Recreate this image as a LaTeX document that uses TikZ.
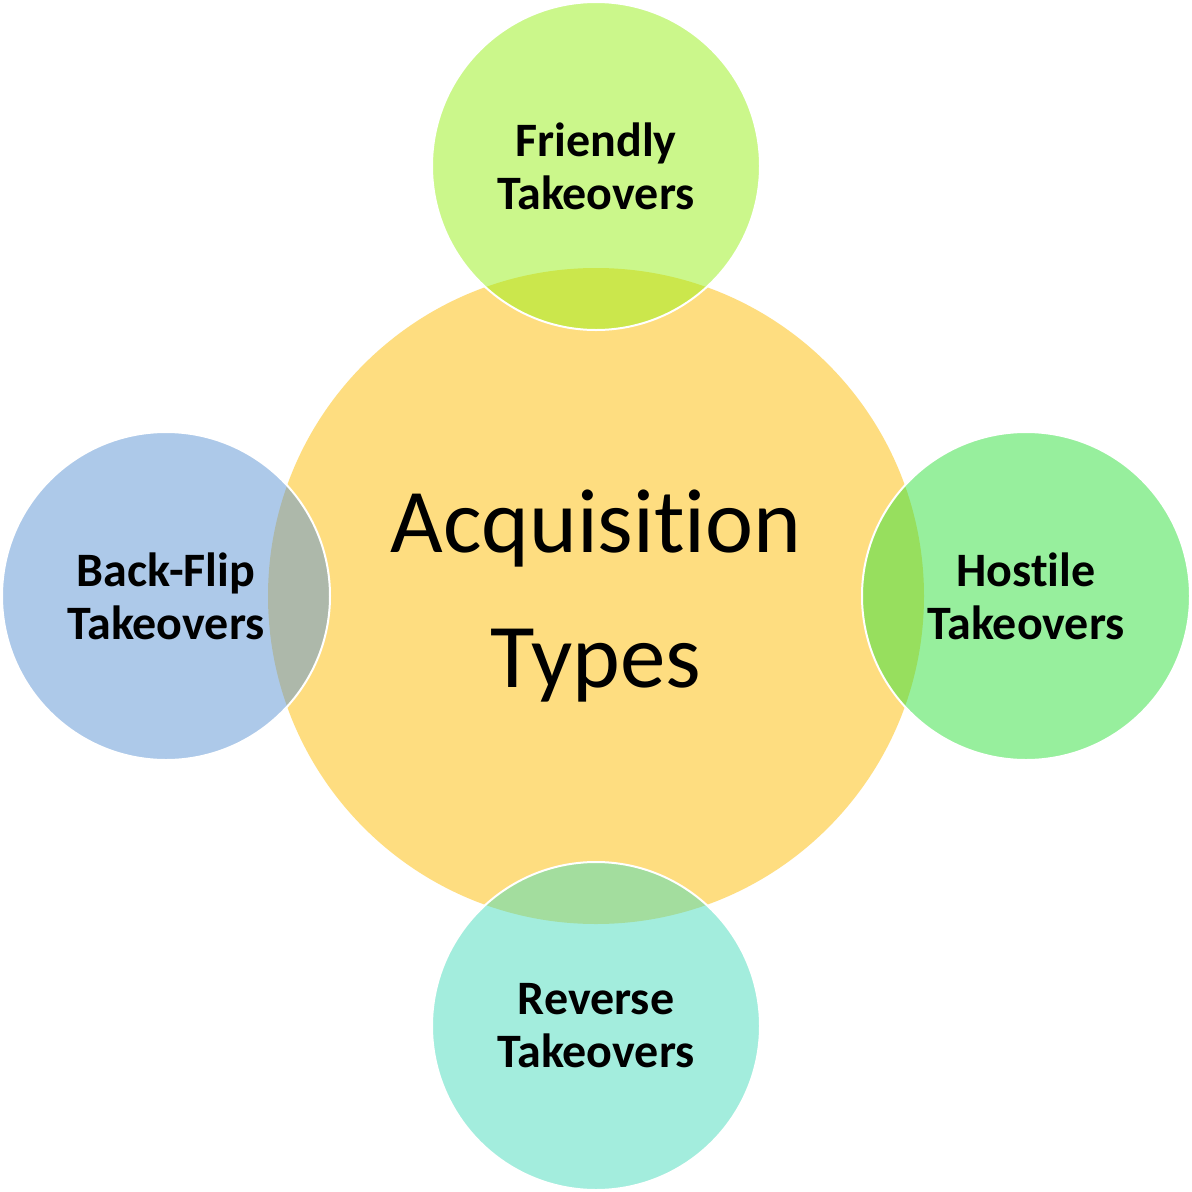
\documentclass[tikz,border=0pt]{standalone}
\usepackage{fontspec}
\setmainfont[RawFeature=-liga]{Carlito}
\definecolor{ccenter}{RGB}{254,221,128}
\definecolor{ctop}{RGB}{153,241,25}
\definecolor{cleft}{RGB}{93,149,213}
\definecolor{cright}{RGB}{49,225,61}
\definecolor{cbottom}{RGB}{73,221,189}
\tikzset{
  sat/.style={circle, minimum size=328pt, inner sep=0pt, draw=white, line width=2pt,
    fill opacity=0.5, text opacity=1, align=center,
    font=\fontsize{48}{53}\selectfont\bfseries},
  hub/.style={circle, minimum size=656pt, inner sep=0pt, fill=ccenter, align=center,
    font=\fontsize{91}{135}\selectfont}
}
\begin{document}
\begin{tikzpicture}[x=1pt,y=-1pt]
\useasboundingbox[fill=white] (0,0) rectangle (1192,1192);
\node[hub] (hub) at (596,596) {Acquisition\\Types};
\node[sat, fill=ctop] (top) at (596,166) {Friendly\\Takeovers};
\node[sat, fill=cright] (right) at (1026,596) {Hostile\\Takeovers};
\node[sat, fill=cbottom] (bottom) at (596,1026) {Reverse\\Takeovers};
\node[sat, fill=cleft] (left) at (166,596) {Back-Flip\\Takeovers};
\end{tikzpicture}
\end{document}
